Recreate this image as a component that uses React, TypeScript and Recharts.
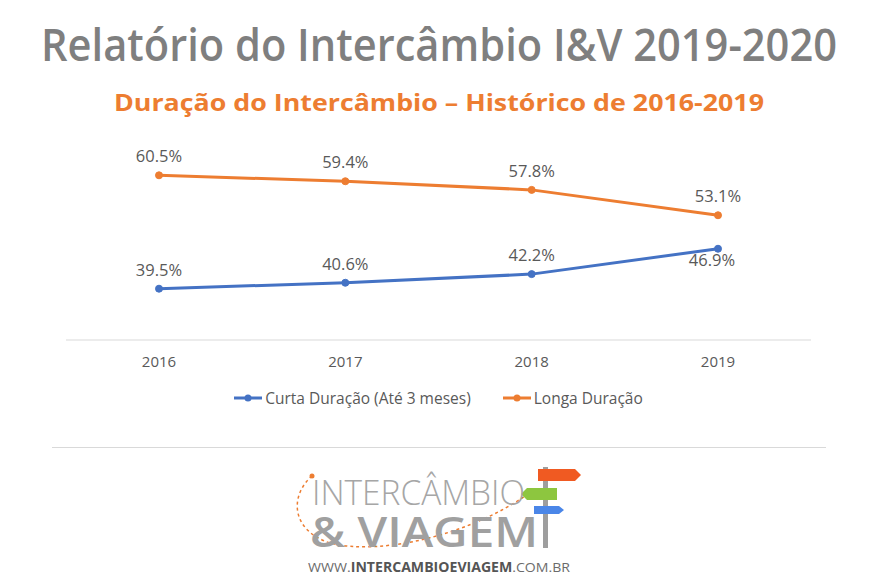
import { LineChart, Line, XAxis, YAxis, Legend, LabelList } from "recharts";

const anos = ["2016", "2017", "2018", "2019"];
const curta = [39.5, 40.6, 42.2, 46.9];
const longa = [60.5, 59.4, 57.8, 53.1];

const AZUL = "#4472c4";
const LARANJA = "#ed7d31";
const CINZA = "#595959";
const FONTE = "'Open Sans', sans-serif";

const dados = anos.map((a, i) => ({ ano: a, curta: curta[i], longa: longa[i] }));

const fmt = (v: number) => `${v.toFixed(1)}%`;

function rotulo(abaixoUltimo: boolean) {
  return (p: any) => {
    const { x, y, value, index } = p;
    const baixo = abaixoUltimo && index === anos.length - 1;
    return (
      <text x={baixo ? x - 6 : x} y={baixo ? y + 17 : y - 13} textAnchor="middle"
        fill={CINZA} fontSize={16.5} fontFamily={FONTE}>
        {fmt(Number(value))}
      </text>
    );
  };
}

function Legenda() {
  const itens = [
    { nome: "Curta Duração (Até 3 meses)", cor: AZUL },
    { nome: "Longa Duração", cor: LARANJA },
  ];
  return (
    <div style={{ display: "flex", justifyContent: "center", gap: 32, fontFamily: FONTE, fontSize: 15.5, color: CINZA, lineHeight: "22px" }}>
      {itens.map((it) => (
        <span key={it.nome} style={{ display: "flex", alignItems: "center" }}>
          <svg width={28} height={10} style={{ marginRight: 3 }}>
            <line x1={0} y1={5} x2={28} y2={5} stroke={it.cor} strokeWidth={3} />
            <circle cx={14} cy={5} r={3.5} fill={it.cor} />
          </svg>
          {it.nome}
        </span>
      ))}
    </div>
  );
}

export default function App() {
  return (
    <div style={{ position: "absolute", left: 0, top: 0, width: 877, height: 584, background: "#fff", fontFamily: FONTE }}>
      <svg width={877} height={584} style={{ position: "absolute", left: 0, top: 0 }}>
        <text x={439} y={61} textAnchor="middle" fill="#7f7f7f" fontSize={45} fontWeight={600}
          textLength={796} lengthAdjust="spacingAndGlyphs">Relatório do Intercâmbio I&amp;V 2019-2020</text>
        <text x={439} y={111} textAnchor="middle" fill={LARANJA} fontSize={24} fontWeight={700}
          textLength={650} lengthAdjust="spacingAndGlyphs">Duração do Intercâmbio – Histórico de 2016-2019</text>
        <line x1={52} y1={447.5} x2={826} y2={447.5} stroke="#d9d9d9" strokeWidth={1} />
        {/* logo */}
        <path d="M312 476 C 290 495, 290 530, 330 543 C 380 556, 470 535, 528 494" fill="none"
          stroke={LARANJA} strokeWidth={1.5} strokeDasharray="3 3" />
        <circle cx={312} cy={476} r={2.5} fill={LARANJA} />
        <rect x={543} y={467} width={5} height={81} fill="#9e9e9e" />
        <polygon points="538,469 575,469 581,475 575,481 538,481" fill="#f05a22" />
        <polygon points="527,488 557,488 557,500 527,500 521,494" fill="#8dc63f" />
        <polygon points="534,506 559,506 564,510 559,514 534,514" fill="#4a86e8" />
        <text x={312} y={505} fill="#a6a6a6" fontSize={34} fontWeight={300}
          textLength={213} lengthAdjust="spacingAndGlyphs">INTERCÂMBIO</text>
        <text x={310} y={547} fill="#a0a0a0" fontSize={42} fontWeight={600}
          textLength={228} lengthAdjust="spacingAndGlyphs">&amp; VIAGEM</text>
        <text x={308} y={572} fill="#6b6b6b" fontSize={13.5} textLength={262} lengthAdjust="spacingAndGlyphs">
          WWW.<tspan fontWeight={700} fill="#555">INTERCAMBIOEVIAGEM</tspan>.COM.BR
        </text>
      </svg>
      <div style={{ position: "absolute", left: 0, top: 0 }}>
        <LineChart width={877} height={584} data={dados} margin={{ top: 124, right: 66, left: 66, bottom: 214 }}>
          <XAxis dataKey="ano" height={30} axisLine={{ stroke: "#d9d9d9" }} tickLine={false} tickMargin={10}
            padding={{ left: 93, right: 93 }}
            tick={{ fill: CINZA, fontSize: 15, fontFamily: FONTE }} />
          <YAxis hide domain={[30, 70]} />
          <Legend layout="horizontal" verticalAlign="middle" align="center" content={<Legenda />}
            wrapperStyle={{ top: 387, left: 0, width: 877 }} />
          <Line type="linear" dataKey="curta" name="Curta Duração (Até 3 meses)" stroke={AZUL} strokeWidth={3}
            dot={{ r: 3.5, fill: AZUL, stroke: AZUL, strokeWidth: 1 }} isAnimationActive={false}>
            <LabelList dataKey="curta" content={rotulo(true)} />
          </Line>
          <Line type="linear" dataKey="longa" name="Longa Duração" stroke={LARANJA} strokeWidth={3}
            dot={{ r: 3.5, fill: LARANJA, stroke: LARANJA, strokeWidth: 1 }} isAnimationActive={false}>
            <LabelList dataKey="longa" content={rotulo(false)} />
          </Line>
        </LineChart>
      </div>
    </div>
  );
}
